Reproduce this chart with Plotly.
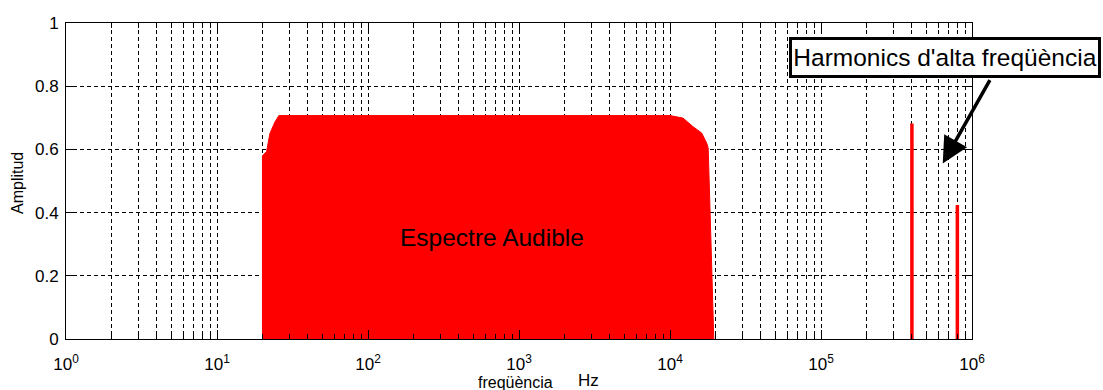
import math
import plotly.graph_objects as go

# Audible band envelope (Hz, amplitude)
audible_freq = [20, 20, 21.3, 22.4, 24.2, 25.7, 10000, 12200, 14200, 16200, 17500, 17900, 18700, 19500]
audible_amp = [0, 0.58, 0.593, 0.65, 0.687, 0.707, 0.707, 0.699, 0.672, 0.652, 0.62, 0.604, 0.3, 0]

# High-frequency harmonics (Hz, amplitude)
harm_freq = [400000, 800000]
harm_amp = [0.682, 0.424]

# Axis ticks
y_ticks = [0, 0.2, 0.4, 0.6, 0.8, 1]
x_major = [10 ** d for d in range(0, 7)]
x_major_text = ["10<sup>%d</sup>" % d for d in range(0, 7)]
x_minor = [k * 10 ** d for d in range(0, 6) for k in range(2, 10)]

FONT = "Liberation Sans, Arial, sans-serif"

# plot-area geometry in pixels, used to place free text in paper units
L, R, T, B = 66, 972, 23, 339


def px_x(px):
    return (px - L) / (R - L)


def px_y(py):
    return (B - py) / (B - T)


fig = go.Figure()

fig.add_trace(go.Scatter(
    x=audible_freq, y=audible_amp, mode="lines",
    line=dict(color="#ff0000", width=1),
    fill="tozeroy", fillcolor="#ff0000",
    hoverinfo="skip", showlegend=False,
))

spike_x, spike_y = [], []
for f, a in zip(harm_freq, harm_amp):
    spike_x += [f, f, None]
    spike_y += [0, a, None]
fig.add_trace(go.Scatter(
    x=spike_x, y=spike_y, mode="lines",
    line=dict(color="#ff0000", width=3.5),
    hoverinfo="skip", showlegend=False,
))

grid_dash = "4px,3px"

fig.update_xaxes(
    type="log", range=[0, 6],
    tickvals=x_major, ticktext=x_major_text,
    ticks="inside", ticklen=9, tickcolor="black", tickwidth=1,
    showline=True, linecolor="black", linewidth=1, mirror="ticks",
    showgrid=True, gridcolor="black", gridwidth=1, griddash=grid_dash,
    zeroline=False,
    minor=dict(tickvals=x_minor, ticks="inside", ticklen=5, tickcolor="black",
               showgrid=True, gridcolor="black", gridwidth=1, griddash=grid_dash),
    tickfont=dict(family=FONT, size=17, color="black"),
    ticklabelstandoff=10,
)
fig.update_yaxes(
    range=[0, 1], tickvals=y_ticks,
    ticks="inside", ticklen=9, tickcolor="black", tickwidth=1,
    showline=True, linecolor="black", linewidth=1, mirror="ticks",
    showgrid=True, gridcolor="black", gridwidth=1, griddash=grid_dash,
    zeroline=False,
    tickfont=dict(family=FONT, size=17, color="black"),
    ticklabelstandoff=3,
)

annotations = [
    # band label
    dict(x=math.log10(662), y=0.32, xref="x", yref="y", text="Espectre Audible",
         showarrow=False, font=dict(family=FONT, size=24.5, color="black")),
    # axis titles
    dict(xref="paper", yref="paper", x=px_x(515), y=px_y(382), xanchor="center",
         yanchor="middle", text="freqüència", showarrow=False,
         font=dict(family=FONT, size=16, color="black")),
    dict(xref="paper", yref="paper", x=px_x(588), y=px_y(380), xanchor="center",
         yanchor="middle", text="Hz", showarrow=False,
         font=dict(family=FONT, size=17, color="black")),
    dict(xref="paper", yref="paper", x=px_x(17), y=px_y(183), xanchor="center",
         yanchor="middle", text="Amplitud", textangle=-90, showarrow=False,
         font=dict(family=FONT, size=16, color="black")),
    # arrow towards the harmonics
    dict(x=math.log10(640000), y=0.555, xref="x", yref="y", text="",
         showarrow=True, axref="pixel", ayref="pixel", ax=48, ay=-85,
         arrowhead=2, arrowsize=1.5, arrowwidth=3.5, arrowcolor="black", standoff=0),
    # callout box
    dict(xref="paper", yref="paper", x=px_x(944.5), y=px_y(57.5),
         xanchor="center", yanchor="middle", text="Harmonics d'alta freqüència",
         showarrow=False, align="center", width=306, height=35,
         bordercolor="black", borderwidth=3, borderpad=0, bgcolor="white",
         font=dict(family=FONT, size=24.5, color="black")),
]

fig.update_layout(
    width=1103, height=390,
    margin=dict(l=L, r=1103 - R, t=T, b=390 - B),
    paper_bgcolor="white", plot_bgcolor="white",
    annotations=annotations,
    showlegend=False,
)

fig.write_html("out.html")
